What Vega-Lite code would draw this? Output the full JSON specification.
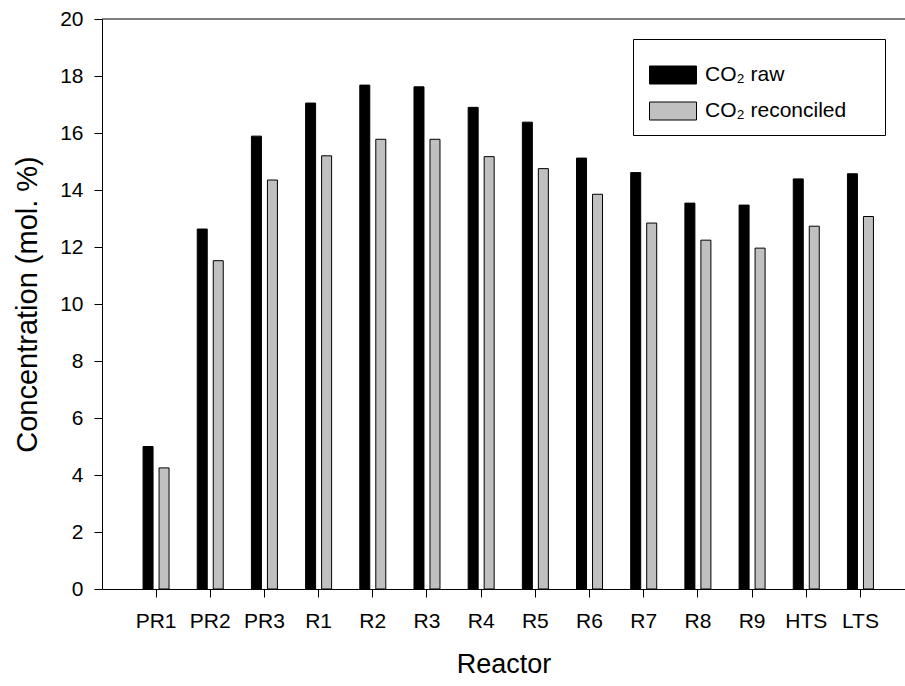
{
  "$schema": "https://vega.github.io/schema/vega-lite/v6.json",
  "width": 803,
  "height": 570,
  "autosize": {"type": "none"},
  "padding": {"left": 102, "top": 19, "right": 0, "bottom": 97},
  "background": "white",
  "config": {
    "view": {"stroke": null},
    "font": "Liberation Sans",
    "axis": {
      "domainColor": "black",
      "domainWidth": 1,
      "tickColor": "black",
      "tickWidth": 1,
      "tickSize": 8,
      "labelColor": "black",
      "labelFont": "Liberation Sans",
      "labelFontSize": 21,
      "titleColor": "black",
      "titleFont": "Liberation Sans",
      "titleFontSize": 27,
      "titleFontWeight": "normal",
      "grid": false
    },
    "legend": {
      "orient": "none",
      "legendX": 531,
      "legendY": 20,
      "title": null,
      "strokeColor": "black",
      "fillColor": "white",
      "padding": 12,
      "symbolOffset": 4,
      "symbolType": "M-1,-0.383H1V0.383H-1Z",
      "symbolSize": 2209,
      "symbolStrokeColor": "black",
      "symbolStrokeWidth": 1,
      "symbolOpacity": 1,
      "labelFont": "Liberation Sans",
      "labelFontSize": 21,
      "labelColor": "black",
      "labelOffset": 8,
      "labelLimit": 400,
      "rowPadding": 0
    }
  },
  "data": {
    "values": [
      {"reactor": "PR1", "series": "CO₂ raw", "value": 5.0},
      {"reactor": "PR1", "series": "CO₂ reconciled", "value": 4.25},
      {"reactor": "PR2", "series": "CO₂ raw", "value": 12.63},
      {"reactor": "PR2", "series": "CO₂ reconciled", "value": 11.52},
      {"reactor": "PR3", "series": "CO₂ raw", "value": 15.89},
      {"reactor": "PR3", "series": "CO₂ reconciled", "value": 14.35},
      {"reactor": "R1", "series": "CO₂ raw", "value": 17.05},
      {"reactor": "R1", "series": "CO₂ reconciled", "value": 15.2},
      {"reactor": "R2", "series": "CO₂ raw", "value": 17.68},
      {"reactor": "R2", "series": "CO₂ reconciled", "value": 15.78},
      {"reactor": "R3", "series": "CO₂ raw", "value": 17.62},
      {"reactor": "R3", "series": "CO₂ reconciled", "value": 15.78},
      {"reactor": "R4", "series": "CO₂ raw", "value": 16.9},
      {"reactor": "R4", "series": "CO₂ reconciled", "value": 15.17},
      {"reactor": "R5", "series": "CO₂ raw", "value": 16.38},
      {"reactor": "R5", "series": "CO₂ reconciled", "value": 14.75},
      {"reactor": "R6", "series": "CO₂ raw", "value": 15.12},
      {"reactor": "R6", "series": "CO₂ reconciled", "value": 13.85},
      {"reactor": "R7", "series": "CO₂ raw", "value": 14.61},
      {"reactor": "R7", "series": "CO₂ reconciled", "value": 12.84},
      {"reactor": "R8", "series": "CO₂ raw", "value": 13.54},
      {"reactor": "R8", "series": "CO₂ reconciled", "value": 12.24},
      {"reactor": "R9", "series": "CO₂ raw", "value": 13.47},
      {"reactor": "R9", "series": "CO₂ reconciled", "value": 11.96},
      {"reactor": "HTS", "series": "CO₂ raw", "value": 14.39},
      {"reactor": "HTS", "series": "CO₂ reconciled", "value": 12.73},
      {"reactor": "LTS", "series": "CO₂ raw", "value": 14.57},
      {"reactor": "LTS", "series": "CO₂ reconciled", "value": 13.07}
    ]
  },
  "layer": [
    {
      "transform": [{"filter": "datum.series === 'CO₂ raw'"}],
      "mark": {"type": "bar", "width": 10, "xOffset": -8, "stroke": "black", "strokeWidth": 1, "opacity": 1},
      "encoding": {
        "x": {
          "field": "reactor", "type": "nominal",
          "sort": ["PR1", "PR2", "PR3", "R1", "R2", "R3", "R4", "R5", "R6", "R7", "R8", "R9", "HTS", "LTS"],
          "scale": {"paddingInner": 0, "paddingOuter": 0.41, "align": 0.607},
          "axis": {"title": "Reactor", "labelAngle": 0, "labelPadding": 13, "titlePadding": 20}
        },
        "y": {
          "field": "value", "type": "quantitative",
          "scale": {"domain": [0, 20], "nice": false},
          "axis": {"title": "Concentration (mol. %)", "titleFontSize": 29, "values": [0, 2, 4, 6, 8, 10, 12, 14, 16, 18, 20], "labelPadding": 11, "titlePadding": 17}
        },
        "color": {
          "field": "series", "type": "nominal",
          "scale": {"domain": ["CO₂ raw", "CO₂ reconciled"], "range": ["#000000", "#c0c0c0"]},
          "legend": {"titleOrient": "right", "title": "\u2800", "titleColor": "white", "titleFontSize": 21, "titlePadding": 12, "titleLimit": 400}
        }
      }
    },
    {
      "transform": [{"filter": "datum.series === 'CO₂ reconciled'"}],
      "mark": {"type": "bar", "width": 10, "xOffset": 8, "stroke": "black", "strokeWidth": 1, "opacity": 1},
      "encoding": {
        "x": {
          "field": "reactor", "type": "nominal",
          "sort": ["PR1", "PR2", "PR3", "R1", "R2", "R3", "R4", "R5", "R6", "R7", "R8", "R9", "HTS", "LTS"]
        },
        "y": {"field": "value", "type": "quantitative"},
        "color": {"field": "series", "type": "nominal"}
      }
    },
    {
      "data": {"values": [{"top": 20}]},
      "mark": {"type": "rule", "color": "black", "strokeWidth": 1},
      "encoding": {"y": {"field": "top", "type": "quantitative"}}
    }
  ]
}
